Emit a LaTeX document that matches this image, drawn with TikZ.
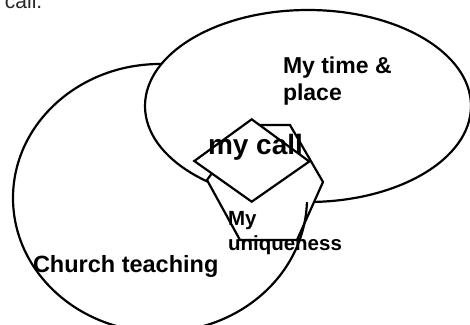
\documentclass[tikz,border=0pt]{standalone}
\usepackage{fontspec}
\setmainfont{Liberation Sans}
\begin{document}
\begin{tikzpicture}[x=1pt,y=-1pt]
\tikzset{
  outline/.style={draw=black, line width=2.2pt, fill=white},
  thinline/.style={draw=black, line width=2.2pt},
  lbl/.style={anchor=base west, inner sep=0pt, outer sep=0pt, text=black},
}
\useasboundingbox (0,0) rectangle (470,324);
\coordinate (L) at (160,198);
\coordinate (R) at (308,106);
% Church teaching ellipse
\draw[outline] (L) ellipse [x radius=147pt, y radius=134pt];
% My time & place ellipse
\draw[outline] (R) ellipse [x radius=163pt, y radius=96pt];
% uniqueness hexagon
\def\hexpath{(247,125) -- (290,125) -- (323,182) -- (297,240) -- (240,240) -- (207,180) -- cycle}
\fill[white] \hexpath;
\begin{scope}
  \clip \hexpath;
  \draw[thinline] (L) ellipse [x radius=147pt, y radius=134pt];
  \fill[white] (R) ellipse [x radius=163pt, y radius=96pt];
\end{scope}
\draw[thinline] \hexpath;
% my call diamond
\coordinate (dT) at (251.7,119.3);
\coordinate (dR) at (309.3,161.5);
\coordinate (dB) at (251.7,201.7);
\coordinate (dL) at (194.3,161);
\draw[outline] (dT) -- (dR) -- (dB) -- (dL) -- cycle;
% texts
\node[lbl, font=\fontsize{21}{25}\selectfont, text=black!85] (prev) at (5,9) {call.};
\node[lbl, font=\bfseries\fontsize{23}{27}\selectfont] (time) at (283,73) {My time \&};
\node[lbl, font=\bfseries\fontsize{23}{27}\selectfont] (place) at (283,100) {place};
\node[lbl, font=\bfseries\fontsize{28}{32}\selectfont] (call) at (208,154) {my call};
\node[lbl, font=\bfseries\fontsize{20.5}{24}\selectfont] (my) at (228,225) {My};
\node[lbl, font=\bfseries\fontsize{20.5}{24}\selectfont] (uniq) at (228,250) {uniqueness};
\node[lbl, font=\bfseries\fontsize{23.5}{27}\selectfont] (church) at (33,272) {Church teaching};
\end{tikzpicture}
\end{document}
